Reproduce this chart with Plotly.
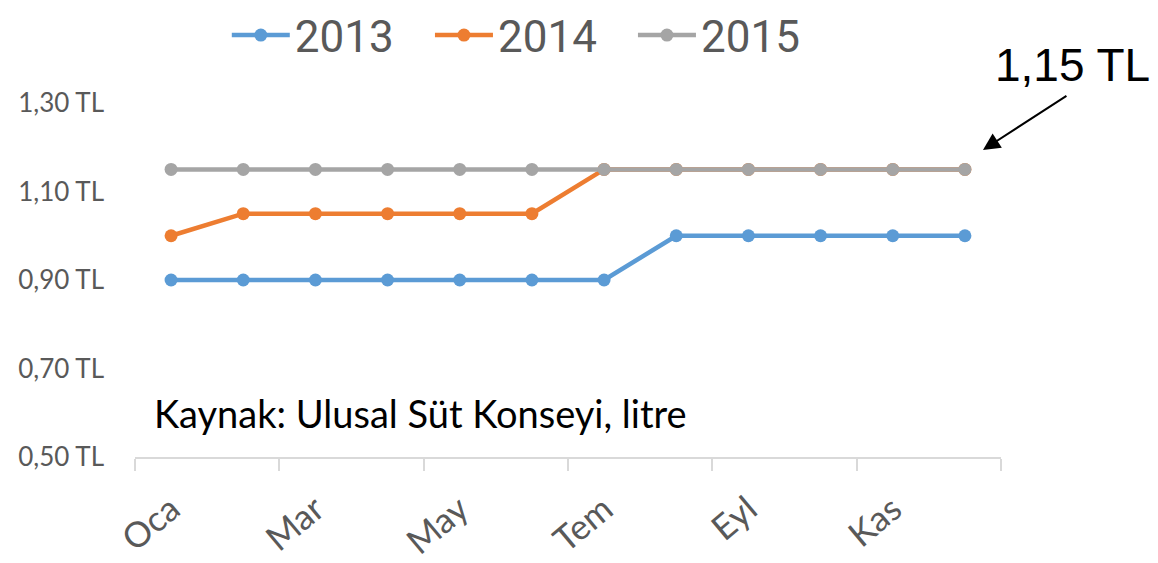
import plotly.graph_objects as go

months = ["Oca", "Şub", "Mar", "Nis", "May", "Haz", "Tem", "Ağu", "Eyl", "Eki", "Kas", "Ara"]
y2013 = [0.90, 0.90, 0.90, 0.90, 0.90, 0.90, 0.90, 1.00, 1.00, 1.00, 1.00, 1.00]
y2014 = [1.00, 1.05, 1.05, 1.05, 1.05, 1.05, 1.15, 1.15, 1.15, 1.15, 1.15, 1.15]
y2015 = [1.15, 1.15, 1.15, 1.15, 1.15, 1.15, 1.15, 1.15, 1.15, 1.15, 1.15, 1.15]
series = [("2013", y2013, "#5b9bd5"), ("2014", y2014, "#ed7d31"), ("2015", y2015, "#a5a5a5")]
y_ticks = [0.50, 0.70, 0.90, 1.10, 1.30]
y_ticktext = ["0,50 TL", "0,70 TL", "0,90 TL", "1,10 TL", "1,30 TL"]

FONT = "Lato"
xs = list(range(len(months)))
legend_ids = ["legend", "legend2", "legend3"]
legend_x = [0.106, 0.3406, 0.575]

fig = go.Figure()
for (name, vals, color), lid in zip(series, legend_ids):
    fig.add_trace(go.Scatter(
        x=xs, y=vals, name=name, mode="lines+markers",
        line=dict(color=color, width=4.5),
        marker=dict(color=color, size=13),
        legend=lid,
    ))

legend_style = dict(orientation="h", xanchor="left", y=1.291, yanchor="top",
                    font=dict(size=44, color="#595959", family="Roboto"),
                    itemwidth=58, bgcolor="rgba(0,0,0,0)", borderwidth=0)

fig.update_layout(
    width=1158, height=563,
    margin=dict(l=135, r=157, t=103, b=106, autoexpand=False),
    paper_bgcolor="white", plot_bgcolor="white",
    font=dict(family=FONT, color="#595959"),
    showlegend=True,
    xaxis=dict(range=[-0.5, 11.5], tickmode="array",
               tickvals=xs[::2], ticktext=months[::2], tickangle=-40,
               tickfont=dict(size=35, color="#595959"),
               ticks="", showgrid=False, zeroline=False, ticklabelstandoff=16,
               showline=True, linecolor="#d9d9d9", linewidth=2,
               minor=dict(tick0=-0.5, dtick=2, ticks="outside", ticklen=12,
                          tickcolor="#d9d9d9", tickwidth=2, showgrid=False)),
    yaxis=dict(range=[0.5, 1.3], tickmode="array", tickvals=y_ticks, ticktext=y_ticktext,
               tickfont=dict(size=26, color="#595959"), showgrid=False, zeroline=False,
               showline=False, ticks="", ticklabelstandoff=30),
)
for lid, lx in zip(legend_ids, legend_x):
    fig.update_layout({lid: dict(x=lx, **legend_style)})

fig.add_annotation(x=11.25, y=1.194, xref="x", yref="y", text="", showarrow=True,
                   ax=85, ay=-55, arrowhead=2, arrowsize=1.7, arrowwidth=2,
                   arrowcolor="black")
fig.add_annotation(x=1.083, y=1.107, xref="paper", yref="paper", text="1,15 TL",
                   showarrow=False, xanchor="center", yanchor="middle",
                   font=dict(family="Liberation Sans", size=46, color="black"))
fig.add_annotation(x=0.02, y=0.124, xref="paper", yref="paper",
                   text="Kaynak: Ulusal Süt Konseyi, litre",
                   showarrow=False, xanchor="left", yanchor="middle",
                   font=dict(family=FONT, size=38, color="black"))

fig.write_html("out.html", config={"displayModeBar": False},
               post_script="document.body.style.margin='0px';")
